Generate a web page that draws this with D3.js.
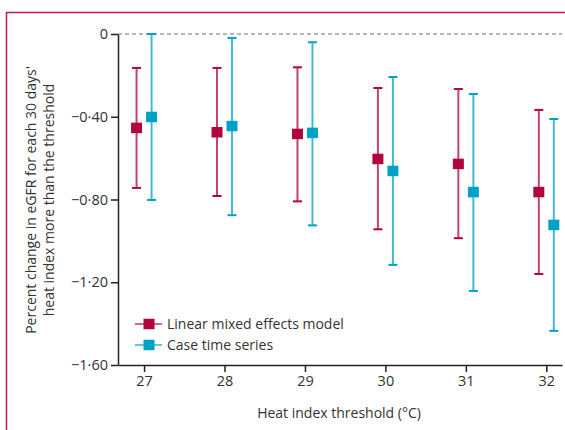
<!DOCTYPE html>
<html>
<head>
<meta charset="utf-8">
<script src="https://cdn.jsdelivr.net/npm/d3@7"></script>
<style>
  body { margin: 0; background: #fff; }
  text { font-family: "Open Sans", "Noto Sans", sans-serif; fill: #333; }
</style>
</head>
<body>
<svg id="chart" width="565" height="430"></svg>
<script>
// Heat index thresholds (°C)
var thresholds = [27, 28, 29, 30, 31, 32];

// Linear mixed effects model: estimate and 95% CI
var lmeEst = [-0.454, -0.475, -0.483, -0.604, -0.628, -0.764];
var lmeLow = [-0.744, -0.783, -0.809, -0.944, -0.987, -1.160];
var lmeHigh = [-0.164, -0.164, -0.161, -0.261, -0.266, -0.367];

// Case time series: estimate and 95% CI
var ctsEst = [-0.401, -0.445, -0.478, -0.662, -0.764, -0.923];
var ctsLow = [-0.802, -0.876, -0.925, -1.116, -1.242, -1.435];
var ctsHigh = [0.0, -0.019, -0.040, -0.208, -0.290, -0.411];

var yTicks = [0, -0.4, -0.8, -1.2, -1.6];

var series = [
    { name: "Linear mixed effects model", color: "#b0063b", dx: -7.5, est: lmeEst, low: lmeLow, high: lmeHigh },
    { name: "Case time series", color: "#00a1c7", dx: 7.5, est: ctsEst, low: ctsLow, high: ctsHigh }
];

var svg = d3.select("#chart");

// outer frame (top and left rules)
svg.append("path")
    .attr("d", "M6.5,430 L6.5,12.5 L565,12.5")
    .attr("fill", "none")
    .attr("stroke", "#c8184b")
    .attr("stroke-width", 1.5);

var x = d3.scaleLinear().domain([26.676, 32.195]).range([118, 562]);
var y = d3.scaleLinear().domain([-1.6, 0]).range([365, 34]);

function fmt(v) {
    if (v === 0) return "0";
    return d3.format(".2f")(v).replace("-", "\u2212").replace(".", "\u00b7");
}

// reference line at zero
svg.append("line")
    .attr("x1", x.range()[0]).attr("x2", x.range()[1])
    .attr("y1", y(0)).attr("y2", y(0))
    .attr("stroke", "#5b7784")
    .attr("stroke-width", 1.2)
    .attr("stroke-dasharray", "4,3");

var yAxis = svg.append("g")
    .attr("transform", "translate(" + x.range()[0] + ",0)")
    .call(d3.axisLeft(y).tickValues(yTicks).tickFormat(fmt).tickSize(7).tickSizeOuter(0).tickPadding(3));

var xAxis = svg.append("g")
    .attr("transform", "translate(0," + y.range()[0] + ")")
    .call(d3.axisBottom(x).tickValues(thresholds).tickFormat(d3.format("d")).tickSize(7).tickSizeOuter(0).tickPadding(4));

svg.selectAll(".domain, .tick line").attr("stroke", "#222").attr("stroke-width", 1.5);
svg.selectAll(".tick text").attr("font-size", "14.5px").attr("fill", "#333")
    .style("font-family", "'Open Sans', 'Noto Sans', sans-serif");

// error bars and markers
series.forEach(function (s) {
    var g = svg.append("g");
    var rows = thresholds.map(function (t, i) {
        return { t: t, est: s.est[i], low: s.low[i], high: s.high[i] };
    });
    g.selectAll("line.bar").data(rows).enter().append("line")
        .attr("x1", function (d) { return x(d.t) + s.dx; })
        .attr("x2", function (d) { return x(d.t) + s.dx; })
        .attr("y1", function (d) { return y(d.low); })
        .attr("y2", function (d) { return y(d.high); })
        .attr("stroke", s.color)
        .attr("stroke-opacity", 0.75)
        .attr("stroke-width", 2);
    ["low", "high"].forEach(function (k) {
        g.selectAll("line.cap-" + k).data(rows).enter().append("line")
            .attr("x1", function (d) { return x(d.t) + s.dx - 4.5; })
            .attr("x2", function (d) { return x(d.t) + s.dx + 4.5; })
            .attr("y1", function (d) { return y(d[k]); })
            .attr("y2", function (d) { return y(d[k]); })
            .attr("stroke", s.color)
            .attr("stroke-width", 2);
    });
    g.selectAll("rect").data(rows).enter().append("rect")
        .attr("x", function (d) { return x(d.t) + s.dx - 5.5; })
        .attr("y", function (d) { return y(d.est) - 5.25; })
        .attr("width", 11)
        .attr("height", 10.5)
        .attr("fill", s.color);
});

// legend
var legend = svg.append("g").attr("transform", "translate(135,324)");
series.forEach(function (s, i) {
    var row = legend.append("g").attr("transform", "translate(0," + (i * 21) + ")");
    row.append("line").attr("x1", 0).attr("x2", 27).attr("y1", 0).attr("y2", 0)
        .attr("stroke", s.color).attr("stroke-width", 1.5).attr("stroke-opacity", 0.8);
    row.append("rect").attr("x", 8.5).attr("y", -5.25).attr("width", 11).attr("height", 10.5)
        .attr("fill", s.color);
    row.append("text").attr("x", 32).attr("y", 0).attr("dy", "0.35em")
        .attr("font-size", "14px").text(s.name);
});

// axis titles
svg.append("text")
    .attr("x", 339).attr("y", 418)
    .attr("text-anchor", "middle")
    .attr("font-size", "14px")
    .text("Heat index threshold (\u00b0C)");

var yTitle = svg.append("text")
    .attr("transform", "translate(0,200) rotate(-90)")
    .attr("text-anchor", "middle")
    .attr("font-size", "14px");
yTitle.append("tspan").attr("x", 0).attr("y", 36).text("Percent change in eGFR for each 30 days'");
yTitle.append("tspan").attr("x", 0).attr("y", 54).text("heat index more than the threshold");
</script>
</body>
</html>
